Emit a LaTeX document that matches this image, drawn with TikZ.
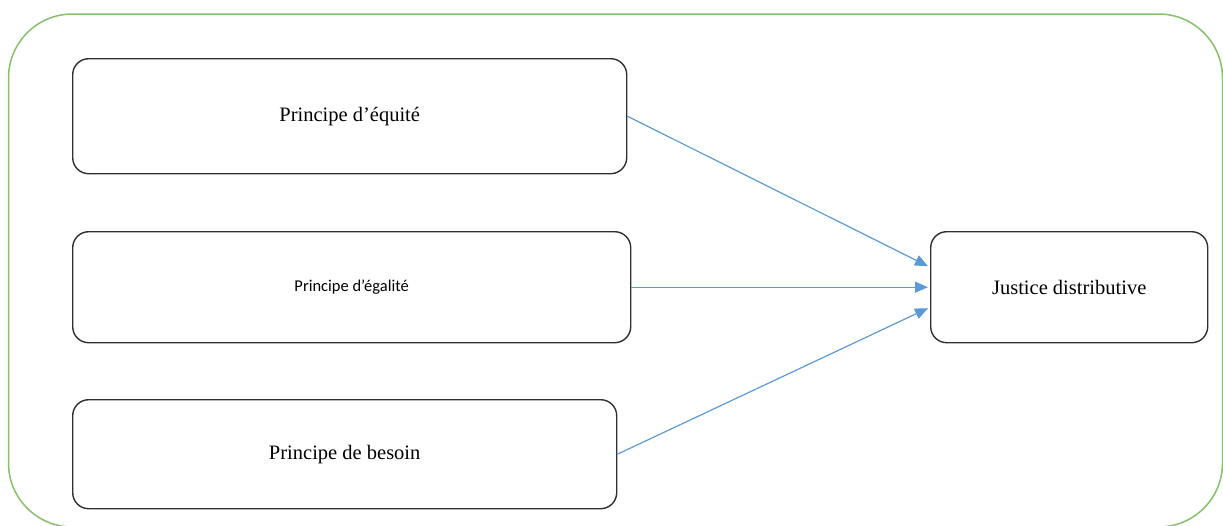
\documentclass[tikz,border=0pt]{standalone}
\usepackage{fontspec}
\setmainfont{Liberation Serif}
\newfontfamily\calibrilike{Carlito}
\usetikzlibrary{arrows.meta}
\definecolor{framegreen}{HTML}{86C06A}
\definecolor{arrowblue}{HTML}{5B9BD5}
\definecolor{boxline}{HTML}{303030}
\tikzset{
  principle/.style={draw=boxline, line width=1.4pt, rounded corners=16pt, inner sep=0pt, anchor=north west},
  link/.style={draw=arrowblue, line width=1.2pt, -{Triangle[length=13pt,width=11pt]}},
}
\begin{document}
\begin{tikzpicture}[x=1pt,y=-1pt]
  \useasboundingbox (0,0) rectangle (1223,525);
  % outer frame, its lower edge just beyond the page
  \begin{scope}
    \clip (0,0) rectangle (1223,525);
    \draw[framegreen, line width=1.5pt, rounded corners=64pt] (8.5,14) rectangle (1222.5,527);
  \end{scope}
  % principle boxes
  \node[principle, minimum width=554pt, minimum height=115pt] (eq) at (72,58)
    {\fontsize{20.5}{24}\selectfont Principe d’équité};
  \node[principle, minimum width=558pt, minimum height=111pt] (eg) at (72,231)
    {\calibrilike\fontsize{16.5}{20}\selectfont Principe d’égalité};
  \node[principle, minimum width=544pt, minimum height=109pt] (be) at (72,399)
    {\fontsize{20.5}{24}\selectfont Principe de besoin};
  \node[principle, minimum width=277pt, minimum height=111pt] (jd) at (930,231)
    {\fontsize{20.5}{24}\selectfont Justice distributive};
  % influences
  \draw[link] (eq.east) -- ([xshift=-2pt,yshift=21pt]jd.west);
  \draw[link] (eg.east) -- ([xshift=-2pt]jd.west);
  \draw[link] (be.east) -- ([xshift=-2pt,yshift=-21pt]jd.west);
\end{tikzpicture}
\end{document}
